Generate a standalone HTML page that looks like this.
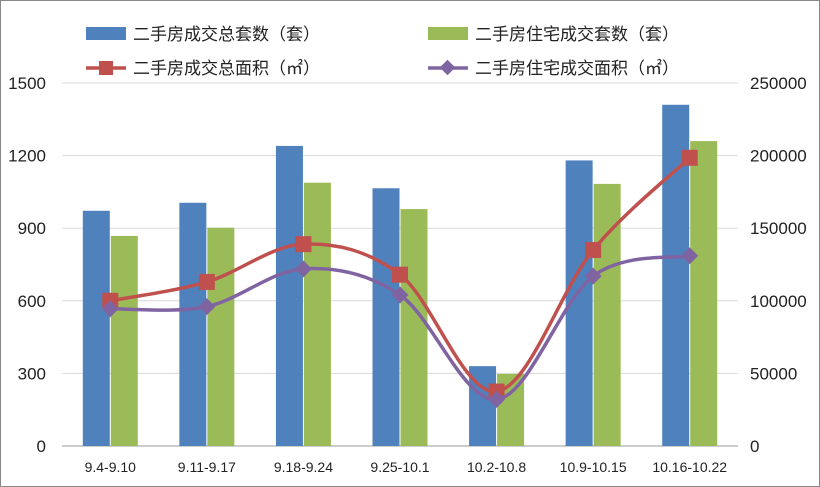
<!DOCTYPE html>
<html><head><meta charset="utf-8">
<style>
body{margin:0;background:#fff;}
#wrap{width:820px;height:487px;position:relative;overflow:hidden;}
svg text{font-family:"Liberation Sans","Noto Sans CJK SC",sans-serif;}
</style></head>
<body>
<div id="wrap">
<svg id="chart" width="820" height="487" xmlns="http://www.w3.org/2000/svg">
<rect x="0.5" y="0.5" width="819" height="486" fill="#fff" stroke="#888"/>
<g id="grid"></g><g id="bars"></g><g id="lines"></g><g id="axes"></g>
<g font-size="17" fill="#222">
<rect x="86" y="27" width="40" height="13" fill="#4F81BD"/>
<text x="133" y="40">二手房成交总套数（套）</text>
<rect x="428" y="27" width="40" height="13" fill="#9BBB59"/>
<text x="475" y="40">二手房住宅成交套数（套）</text>
<line x1="86" y1="68" x2="126" y2="68" stroke="#C0504D" stroke-width="3.5"/>
<rect x="99" y="61" width="14" height="14" fill="#C0504D"/>
<text x="133" y="74">二手房成交总面积（㎡）</text>
<line x1="428" y1="68" x2="468" y2="68" stroke="#8064A2" stroke-width="3.5"/>
<rect x="442" y="62" width="11" height="11" fill="#8064A2" transform="rotate(45 447.5 67.5)"/>
<text x="475" y="74">二手房住宅成交面积（㎡）</text>
</g>
</svg>
</div>
<script>
const categories=["9.4-9.10","9.11-9.17","9.18-9.24","9.25-10.1","10.2-10.8","10.9-10.15","10.16-10.22"];
const totalCount=[972,1005,1240,1065,330,1180,1410];
const residentialCount=[868,902,1088,979,298,1083,1260];
const totalArea=[100000,113000,139000,118000,37500,135000,198500];
const residentialArea=[94500,96000,122000,104000,32000,117000,131000];
const leftTicks=[0,300,600,900,1200,1500];
const rightTicks=[0,50000,100000,150000,200000,250000];

const NS="http://www.w3.org/2000/svg";
const X0=62,X1=738,Y0=446,Y1=83;
const step=(X1-X0)/categories.length;
const cx=i=>X0+step*(i+0.5);
const yL=v=>Y0-(v/1500)*(Y0-Y1);
const yR=v=>Y0-(v/250000)*(Y0-Y1);
function mk(tag,attrs,parent){const e=document.createElementNS(NS,tag);for(const k in attrs)e.setAttribute(k,attrs[k]);parent.appendChild(e);return e;}
const grid=document.getElementById('grid'),bars=document.getElementById('bars'),lines=document.getElementById('lines'),axes=document.getElementById('axes');
leftTicks.forEach((t,i)=>{
  const l=mk('line',{x1:X0,x2:X1,y1:yL(t),y2:yL(t),stroke:i===0?'#999':'#d9d9d9','stroke-width':1},grid);
  
  
  const tx=mk('text',{x:46,y:yL(t)+6,'text-anchor':'end','font-size':17,fill:'#222'},axes);
  tx.textContent=t;
  
  
});
rightTicks.forEach(t=>{
  const tx=mk('text',{x:750,y:yR(t)+6,'text-anchor':'start','font-size':17,fill:'#222'},axes);
  tx.textContent=t;
  
  
});
categories.forEach((c,i)=>{
  const tx=mk('text',{x:cx(i),y:472,'text-anchor':'middle','font-size':14,fill:'#222'},axes);
  tx.textContent=c;
  
  
  const b1=mk('rect',{x:cx(i)-27.5,y:yL(totalCount[i]),width:27,height:Y0-yL(totalCount[i]),fill:'#4F81BD'},bars);
  
  
  const b2=mk('rect',{x:cx(i)+0.5,y:yL(residentialCount[i]),width:27,height:Y0-yL(residentialCount[i]),fill:'#9BBB59'},bars);
  
  
});
function smooth(pts){
  let d=`M${pts[0][0]},${pts[0][1]}`;
  for(let i=0;i<pts.length-1;i++){
    const p0=pts[i-1]||pts[i],p1=pts[i],p2=pts[i+1],p3=pts[i+2]||p2;
    const c1=[p1[0]+(p2[0]-p0[0])/6,p1[1]+(p2[1]-p0[1])/6];
    const c2=[p2[0]-(p3[0]-p1[0])/6,p2[1]-(p3[1]-p1[1])/6];
    d+=` C${c1[0]},${c1[1]} ${c2[0]},${c2[1]} ${p2[0]},${p2[1]}`;
  }
  return d;
}
function series(vals,color,name,marker){
  const pts=vals.map((v,i)=>[cx(i),yR(v)]);
  const p=mk('path',{d:smooth(pts),fill:'none',stroke:color,'stroke-width':3.5},lines);
  
  
  pts.forEach(pt=>{
    let m;
    if(marker==='square'){m=mk('rect',{x:pt[0]-8,y:pt[1]-8,width:16,height:16,fill:color},lines);}
    else{m=mk('rect',{x:pt[0]-6,y:pt[1]-6,width:12,height:12,fill:color,transform:`rotate(45 ${pt[0]} ${pt[1]})`},lines);}
    
    
  });
}
series(totalArea,'#C0504D','total-area','square');
series(residentialArea,'#8064A2','residential-area','diamond');
</script>
</body></html>
